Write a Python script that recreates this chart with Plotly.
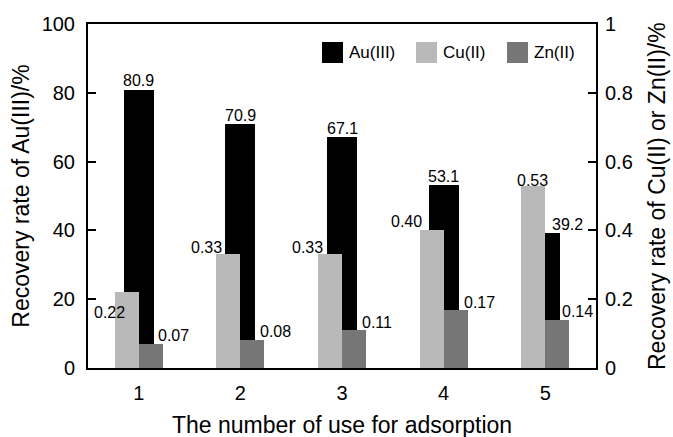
import plotly.graph_objects as go

# ---- data ----
cycles = [1, 2, 3, 4, 5]
au_rate = [80.9, 70.9, 67.1, 53.1, 39.2]        # left axis, %
cu_rate = [0.22, 0.33, 0.33, 0.40, 0.53]        # right axis, %
zn_rate = [0.07, 0.08, 0.11, 0.17, 0.14]        # right axis, %
au_text = ["80.9", "70.9", "67.1", "53.1", "39.2"]
cu_text = ["0.22", "0.33", "0.33", "0.40", "0.53"]
zn_text = ["0.07", "0.08", "0.11", "0.17", "0.14"]
series_names = ["Au(III)", "Cu(II)", "Zn(II)"]
left_ticks = [0, 20, 40, 60, 80, 100]
right_ticks = [0, 0.2, 0.4, 0.6, 0.8, 1]
right_ticklabels = ["0", "0.2", "0.4", "0.6", "0.8", "1"]
x_title = "The number of use for adsorption"
y_title = "Recovery rate of Au(III)/%"
y2_title = "Recovery rate of Cu(II) or Zn(II)/%"

# ---- styles ----
FONT = "Liberation Sans, Arial, sans-serif"
C_AU, C_CU, C_ZN = "#000000", "#b9b9b9", "#767676"
W, H = 673, 437
ML, MR, MT, MB = 88, 77, 24, 69
PW, PH = W - ML - MR, H - MT - MB

# label offsets (px) relative to (category centre, bar top)
au_off = [(0, -9), (0, -9), (0, -9), (0, -9), (22, -9)]
cu_off = [(-29, 20), (-34, -7), (-35, -7), (-37, -9), (-13, -5)]
zn_off = [(35, -8), (35, -9), (35, -8), (36, -7), (32, -8)]

fig = go.Figure()
fig.add_trace(go.Bar(x=cycles, y=au_rate, name=series_names[0], marker_color=C_AU,
                     marker_line_width=0, width=0.295, offset=-0.1475, yaxis="y"))
fig.add_trace(go.Bar(x=cycles, y=cu_rate, name=series_names[1], marker_color=C_CU,
                     marker_line_width=0, width=0.236, offset=-0.236, yaxis="y2"))
fig.add_trace(go.Bar(x=cycles, y=zn_rate, name=series_names[2], marker_color=C_ZN,
                     marker_line_width=0, width=0.236, offset=0.0, yaxis="y2"))

ann = []
for vals, texts, offs, yref in [(au_rate, au_text, au_off, "y"),
                                (cu_rate, cu_text, cu_off, "y2"),
                                (zn_rate, zn_text, zn_off, "y2")]:
    for xc, v, t, (dx, dy) in zip(cycles, vals, texts, offs):
        ann.append(dict(x=xc, y=v, xref="x", yref=yref, text=t, showarrow=False,
                        xanchor="center", yanchor="middle", xshift=dx, yshift=-dy,
                        font=dict(size=16, color="black", family=FONT)))

# custom legend (big square swatches)
def px_x(p):
    return (p - ML) / PW

def px_y(p):
    return (H - MB - p) / PH

shapes = []
legend_x = [322, 416, 507]
for nm, col, lx in zip(series_names, [C_AU, C_CU, C_ZN], legend_x):
    shapes.append(dict(type="rect", xref="paper", yref="paper",
                       x0=px_x(lx), x1=px_x(lx + 21), y0=px_y(63), y1=px_y(42),
                       fillcolor=col, line_width=0))
    ann.append(dict(x=px_x(lx + 25), y=px_y(52.5), xref="paper", yref="paper", text=nm,
                    showarrow=False, xanchor="left", yanchor="middle",
                    font=dict(size=17, color="black", family=FONT)))

# axis titles placed as annotations (x title and right title)
ann.append(dict(x=0.5, y=0, xref="paper", yref="paper", text=x_title, showarrow=False,
                xanchor="center", yanchor="middle", yshift=-57, borderpad=0,
                font=dict(size=23, color="black", family=FONT)))
ann.append(dict(x=1, y=0.5, xref="paper", yref="paper", text=y2_title, showarrow=False,
                xanchor="center", yanchor="middle", xshift=61, textangle=-90, borderpad=0,
                font=dict(size=23, color="black", family=FONT)))

fig.update_layout(
    width=W, height=H,
    margin=dict(l=ML, r=MR, t=MT, b=MB, pad=0, autoexpand=False),
    paper_bgcolor="white", plot_bgcolor="white",
    barmode="overlay", bargap=0,
    showlegend=False,
    font=dict(family=FONT, color="black", size=20),
    annotations=ann, shapes=shapes,
    xaxis=dict(range=[0.5, 5.5], tickmode="array", tickvals=cycles, automargin=False,
               ticktext=[str(c) for c in cycles], ticks="", showgrid=False, zeroline=False,
               showline=True, linecolor="black", linewidth=2, mirror=True,
               tickfont=dict(size=20), ticklabelstandoff=6),
    yaxis=dict(range=[0, 100], tickvals=left_ticks, ticks="inside", ticklen=8, tickwidth=2,
               automargin=False,
               tickcolor="black", showgrid=False, zeroline=False, showline=True,
               linecolor="black", linewidth=2, tickfont=dict(size=20), ticklabelstandoff=7,
               title=dict(text=y_title, font=dict(size=23), standoff=6)),
    yaxis2=dict(range=[0, 1], tickvals=right_ticks, ticktext=right_ticklabels,
                automargin=False,
                overlaying="y", side="right", ticks="inside", ticklen=8, tickwidth=2,
                tickcolor="black", showgrid=False, zeroline=False, showline=True,
                linecolor="black", linewidth=2, tickfont=dict(size=20), ticklabelstandoff=3),
)

fig.write_html("out.html")
